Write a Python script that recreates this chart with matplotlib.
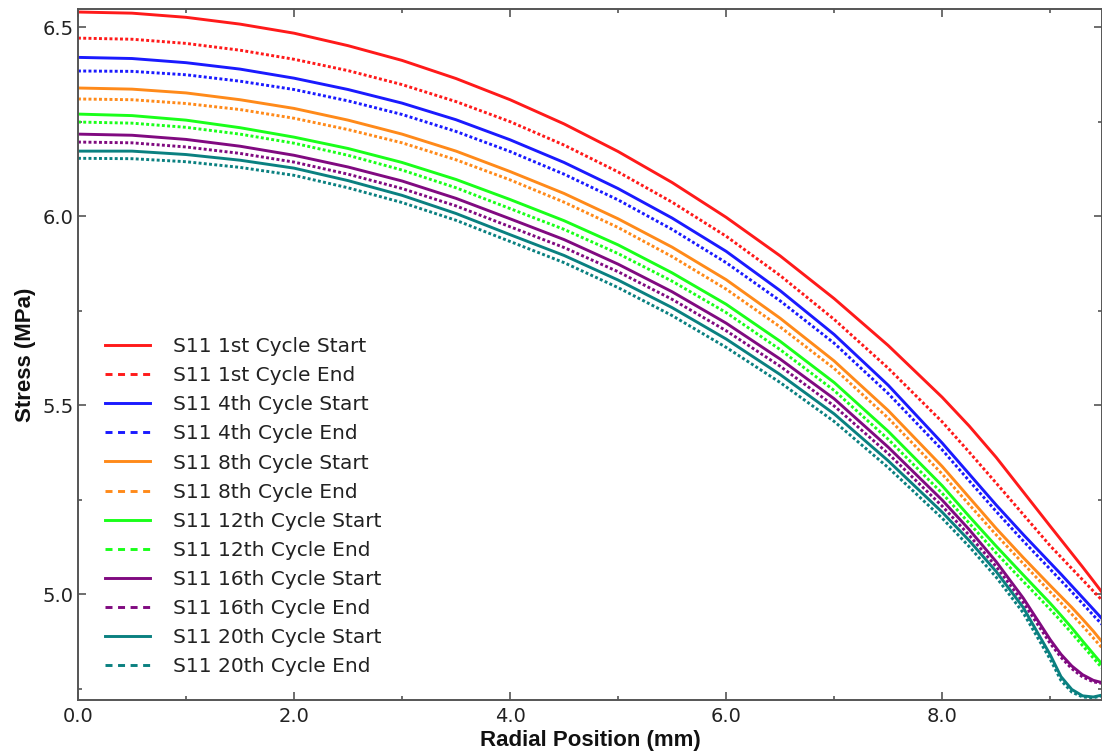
import matplotlib
matplotlib.use('Agg')
import matplotlib.pyplot as plt
from matplotlib.lines import Line2D
from matplotlib.ticker import MultipleLocator, FormatStrFormatter

# radial positions (mm) shared by every path
radius = [0.0, 0.5, 1.0, 1.5, 2.0, 2.5, 3.0, 3.5, 4.0, 4.5, 5.0, 5.5, 6.0,
          6.5, 7.0, 7.5, 8.0, 8.25, 8.5, 8.75, 9.0, 9.1, 9.2, 9.3, 9.4, 9.48]

# S11 stress (MPa) along the path, start / end of each cycle
s11_c1_start = [6.540, 6.537, 6.526, 6.508, 6.484, 6.451, 6.412, 6.364, 6.308, 6.244, 6.171, 6.089, 5.997,
                5.895, 5.782, 5.658, 5.521, 5.445, 5.362, 5.271, 5.180, 5.144, 5.108, 5.072, 5.035, 5.005]
s11_c1_end = [6.471, 6.468, 6.457, 6.439, 6.415, 6.385, 6.348, 6.303, 6.250, 6.188, 6.117, 6.037, 5.947,
              5.843, 5.727, 5.598, 5.456, 5.376, 5.294, 5.211, 5.128, 5.098, 5.068, 5.038, 5.008, 4.984]
s11_c4_start = [6.420, 6.417, 6.406, 6.389, 6.365, 6.335, 6.299, 6.255, 6.202, 6.142, 6.073, 5.995, 5.907,
                5.803, 5.687, 5.553, 5.400, 5.318, 5.236, 5.158, 5.083, 5.053, 5.022, 4.991, 4.960, 4.935]
s11_c4_end = [6.384, 6.383, 6.374, 6.357, 6.335, 6.305, 6.269, 6.224, 6.171, 6.111, 6.043, 5.965, 5.877,
              5.776, 5.664, 5.531, 5.382, 5.300, 5.219, 5.141, 5.066, 5.036, 5.006, 4.975, 4.944, 4.920]
s11_c8_start = [6.339, 6.336, 6.326, 6.308, 6.285, 6.254, 6.217, 6.172, 6.118, 6.060, 5.993, 5.918, 5.832,
                5.730, 5.617, 5.486, 5.338, 5.256, 5.174, 5.097, 5.023, 4.994, 4.965, 4.934, 4.902, 4.874]
s11_c8_end = [6.310, 6.308, 6.298, 6.282, 6.259, 6.229, 6.194, 6.149, 6.096, 6.037, 5.970, 5.893, 5.807,
              5.707, 5.597, 5.466, 5.318, 5.237, 5.157, 5.081, 5.006, 4.977, 4.947, 4.916, 4.884, 4.858]
s11_c12_start = [6.270, 6.266, 6.254, 6.234, 6.209, 6.179, 6.142, 6.097, 6.044, 5.988, 5.924, 5.850, 5.767,
                 5.669, 5.560, 5.431, 5.287, 5.206, 5.127, 5.051, 4.976, 4.944, 4.911, 4.876, 4.842, 4.815]
s11_c12_end = [6.249, 6.246, 6.235, 6.217, 6.193, 6.161, 6.122, 6.075, 6.020, 5.965, 5.901, 5.828, 5.745,
               5.647, 5.539, 5.410, 5.267, 5.188, 5.109, 5.034, 4.960, 4.929, 4.897, 4.864, 4.831, 4.805]
s11_c16_start = [6.217, 6.214, 6.203, 6.185, 6.161, 6.130, 6.093, 6.047, 5.993, 5.938, 5.873, 5.800, 5.717,
                 5.622, 5.517, 5.389, 5.249, 5.171, 5.086, 4.990, 4.880, 4.841, 4.810, 4.787, 4.772, 4.766]
s11_c16_end = [6.196, 6.194, 6.183, 6.166, 6.143, 6.111, 6.073, 6.027, 5.972, 5.917, 5.853, 5.780, 5.697,
               5.603, 5.498, 5.372, 5.233, 5.156, 5.073, 4.978, 4.870, 4.833, 4.803, 4.781, 4.768, 4.764]
s11_c20_start = [6.172, 6.172, 6.163, 6.148, 6.127, 6.094, 6.055, 6.007, 5.951, 5.896, 5.831, 5.758, 5.675,
                 5.581, 5.477, 5.353, 5.217, 5.142, 5.060, 4.965, 4.840, 4.782, 4.748, 4.731, 4.728, 4.733]
s11_c20_end = [6.153, 6.152, 6.144, 6.129, 6.108, 6.075, 6.036, 5.989, 5.933, 5.877, 5.811, 5.737, 5.653,
               5.560, 5.457, 5.335, 5.201, 5.126, 5.045, 4.951, 4.828, 4.772, 4.741, 4.728, 4.726, 4.731]

labels = ['S11 1st Cycle Start', 'S11 1st Cycle End',
          'S11 4th Cycle Start', 'S11 4th Cycle End',
          'S11 8th Cycle Start', 'S11 8th Cycle End',
          'S11 12th Cycle Start', 'S11 12th Cycle End',
          'S11 16th Cycle Start', 'S11 16th Cycle End',
          'S11 20th Cycle Start', 'S11 20th Cycle End']
series = [s11_c1_start, s11_c1_end, s11_c4_start, s11_c4_end,
          s11_c8_start, s11_c8_end, s11_c12_start, s11_c12_end,
          s11_c16_start, s11_c16_end, s11_c20_start, s11_c20_end]
colors = ['#ff1a1a', '#ff1a1a', '#1a1aff', '#1a1aff', '#ff8a1a', '#ff8a1a',
          '#1aff1a', '#1aff1a', '#800a80', '#800a80', '#0a8080', '#0a8080']

plt.rcParams['font.family'] = ['DejaVu Sans']

fig = plt.figure(figsize=(11.02, 7.55), dpi=100)
ax = fig.add_axes([78 / 1102, 1 - 700 / 755, 1024 / 1102, 691 / 755])

handles = []
for i, (vals, lab, col) in enumerate(zip(series, labels, colors)):
    if i % 2 == 0:
        ax.plot(radius, vals, color=col, lw=2.1, solid_capstyle='butt')
        handles.append(Line2D([], [], color=col, lw=2.1, label=lab))
    else:
        ax.plot(radius, vals, color=col, lw=2.1, linestyle=(0, (1.0, 0.8)))
        handles.append(Line2D([], [], color=col, lw=2.1, linestyle=(0, (2.4, 1.9)), label=lab))

ax.set_xlim(0, 9.48)
ax.set_ylim(4.72, 6.548)

ax.xaxis.set_major_locator(MultipleLocator(2.0))
ax.xaxis.set_minor_locator(MultipleLocator(1.0))
ax.yaxis.set_major_locator(MultipleLocator(0.5))
ax.yaxis.set_minor_locator(MultipleLocator(0.25))
ax.xaxis.set_major_formatter(FormatStrFormatter('%.1f'))
ax.yaxis.set_major_formatter(FormatStrFormatter('%.1f'))

ax.tick_params(which='both', direction='in', top=True, right=True,
               color='#555555', labelcolor='#222222', labelsize=14, width=1.2)
ax.tick_params(which='major', length=5.5)
ax.tick_params(axis='y', which='major', pad=3)
ax.tick_params(axis='x', which='major', pad=5)
ax.tick_params(which='minor', length=3)
for sp in ax.spines.values():
    sp.set_color('#555555')
    sp.set_linewidth(1.4)

ax.set_xlabel('Radial Position (mm)', family='Liberation Sans', fontweight='bold',
              fontsize=16, color='#111111', labelpad=3)
ax.set_ylabel('Stress (MPa)', family='Liberation Sans', fontweight='bold',
              fontsize=16, color='#111111', labelpad=5)

ax.legend(handles=handles, loc='upper left', bbox_to_anchor=(27 / 1024, 0.525),
          frameon=False, fontsize=14.5, handlelength=2.23, handletextpad=1.14,
          labelspacing=0.5, borderpad=0, borderaxespad=0, labelcolor='#222222')

plt.savefig('out.png', dpi=100)
